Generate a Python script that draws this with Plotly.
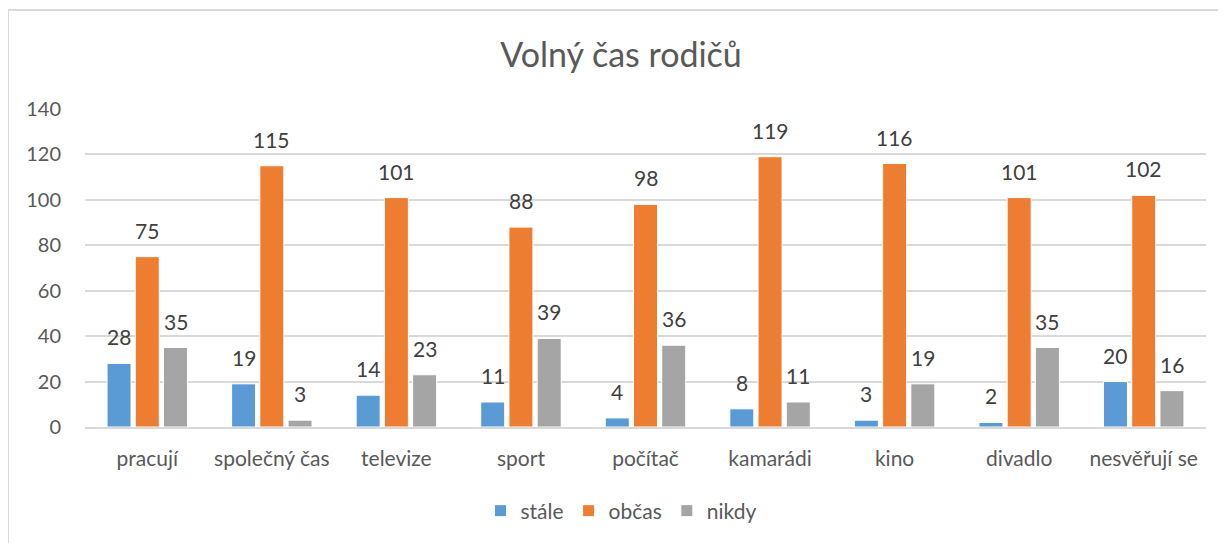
import plotly.graph_objects as go

categories = ["pracují", "společný čas", "televize", "sport", "počítač", "kamarádi", "kino", "divadlo", "nesvěřují se"]
stale = [28, 19, 14, 11, 4, 8, 3, 2, 20]
obcas = [75, 115, 101, 88, 98, 119, 116, 101, 102]
nikdy = [35, 3, 23, 39, 36, 11, 19, 35, 16]

series = [("stále", stale, "#5B9BD5"), ("občas", obcas, "#ED7D31"), ("nikdy", nikdy, "#A5A5A5")]

FONT = "Lato, Calibri, 'Open Sans', sans-serif"
TXT = "#595959"
BARGAP = 0.32

W, H = 1226, 543
OFF = 8  # page body margin offset
# screen-pixel positions of the plot area
SX0, SX1, SY0, SY1 = 85, 1206, 109, 427
L = SX0 - OFF
R = W - (SX1 - OFF)
T = SY0 - OFF
B = H - (SY1 - OFF)
pw, ph = W - L - R, H - T - B

def px(sx):
    return (sx - OFF - L) / pw

def py(sy):
    return (H - B - (sy - OFF)) / ph

fig = go.Figure()
annotations = []
slot_px = pw / len(categories) * (1 - BARGAP) / len(series)
for i, (name, vals, col) in enumerate(series):
    fig.add_trace(go.Bar(
        x=categories, y=vals, name=name,
        marker=dict(color=col, line=dict(color="white", width=1)),
    ))
    for c, v in zip(categories, vals):
        annotations.append(dict(
            x=c, y=v, xref="x", yref="y", text=str(v), showarrow=False,
            xanchor="center", yanchor="bottom",
            xshift=(i - (len(series) - 1) / 2) * slot_px, yshift=12,
            font=dict(size=21, color="#404040", family=FONT),
        ))

fig.update_layout(
    width=W, height=H,
    margin=dict(l=L, r=R, t=T, b=B, autoexpand=False),
    paper_bgcolor="white", plot_bgcolor="white",
    font=dict(family=FONT, color=TXT),
    title=dict(text="Volný čas rodičů", x=(621 - OFF) / W, xanchor="center", y=1 - (55 - OFF) / H, yanchor="middle",
               font=dict(size=34, color=TXT, family=FONT)),
    barmode="group", bargap=BARGAP, bargroupgap=0.15,
    showlegend=True,
    legend=dict(orientation="h", x=px(621), xanchor="center", y=py(511), yanchor="middle",
                font=dict(size=21, color=TXT, family=FONT), itemwidth=30, traceorder="normal"),
    xaxis=dict(showgrid=False, showline=True, linecolor="#D9D9D9", linewidth=2, ticks="",
               tickfont=dict(size=21, color=TXT, family=FONT), ticklabelstandoff=12),
    yaxis=dict(range=[0, 140], dtick=20, showgrid=True, gridcolor="#D9D9D9", gridwidth=2,
               zeroline=False, showline=False, ticks="",
               tickfont=dict(size=20, color=TXT, family=FONT), ticklabelstandoff=23),
    annotations=annotations,
    shapes=[
        dict(type="line", xref="paper", yref="paper", x0=px(8), x1=px(1240), y0=py(10), y1=py(10),
             line=dict(color="#D9D9D9", width=2)),
        dict(type="line", xref="paper", yref="paper", x0=px(8), x1=px(8), y0=py(10), y1=py(560),
             line=dict(color="#D9D9D9", width=2)),
    ],
)

fig.write_html("out.html")
